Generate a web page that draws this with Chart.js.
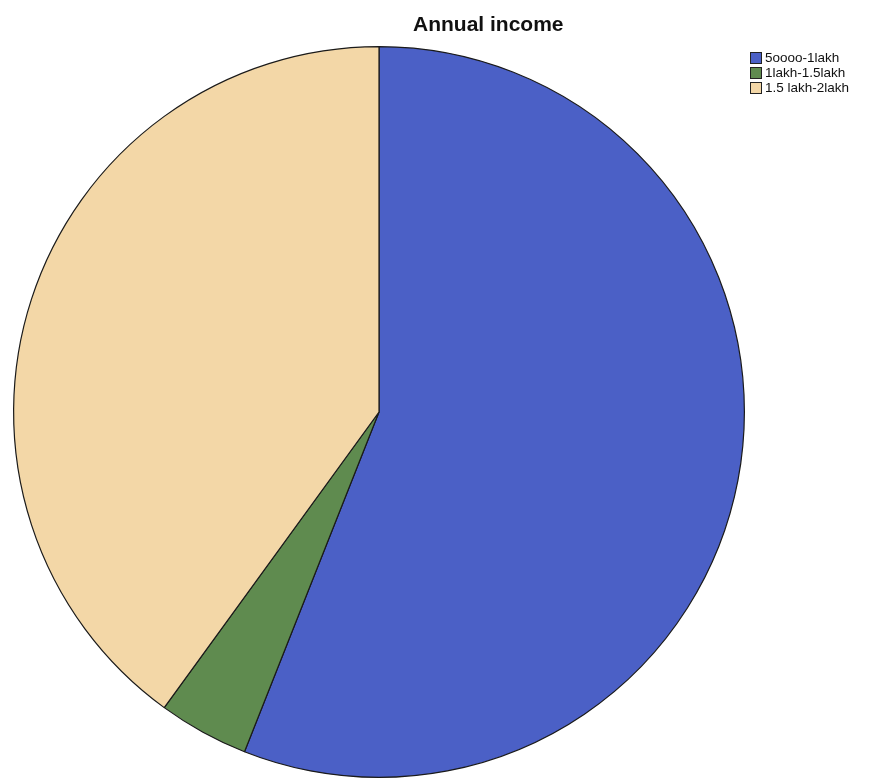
<!DOCTYPE html>
<html><head><meta charset="utf-8">
<script src="https://cdn.jsdelivr.net/npm/chart.js@4/dist/chart.umd.min.js"></script>
<style>
html,body{margin:0;padding:0;background:#fff;}
#wrap{position:relative;width:878px;height:782px;}
#title{position:absolute;left:413px;top:12px;font:bold 21px "Liberation Sans",Arial,sans-serif;color:#111;white-space:nowrap;}
#legend{position:absolute;left:750px;top:50px;font:13.5px "Liberation Sans",Arial,sans-serif;color:#111;}
.item{display:flex;align-items:center;height:15px;white-space:nowrap;}
.sw{width:12px;height:12px;box-sizing:border-box;border:1px solid #222;margin-right:3px;}
</style></head>
<body><div id="wrap"><canvas id="c" width="878" height="782"></canvas>
<div id="title"></div><div id="legend"></div></div>
<script>
const titleText = "Annual income";
const categories = ["5oooo-1lakh", "1lakh-1.5lakh", "1.5 lakh-2lakh"];
const values = [56, 4, 40];
const colors = ["#4b60c6", "#5f8b4f", "#f3d7a7"];

document.getElementById('title').textContent = titleText;
const lg = document.getElementById('legend');
categories.forEach((c,i)=>{
  const d=document.createElement('div');d.className='item';
  const s=document.createElement('span');s.className='sw';s.style.background=colors[i];
  const t=document.createElement('span');t.textContent=c;
  d.appendChild(s);d.appendChild(t);lg.appendChild(d);
});

new Chart(document.getElementById('c'), {
  type: 'pie',
  data: { labels: categories, datasets: [{ data: values, backgroundColor: colors, borderColor: '#1a1a1a', borderWidth: 1.2 }] },
  options: {
    responsive: false, animation: false,
    layout: { padding: { left: 13, top: 45, right: 133, bottom: 3 } },
    plugins: { legend: { display: false }, title: { display: false }, tooltip: { enabled: false } }
  }
});
</script></body></html>
